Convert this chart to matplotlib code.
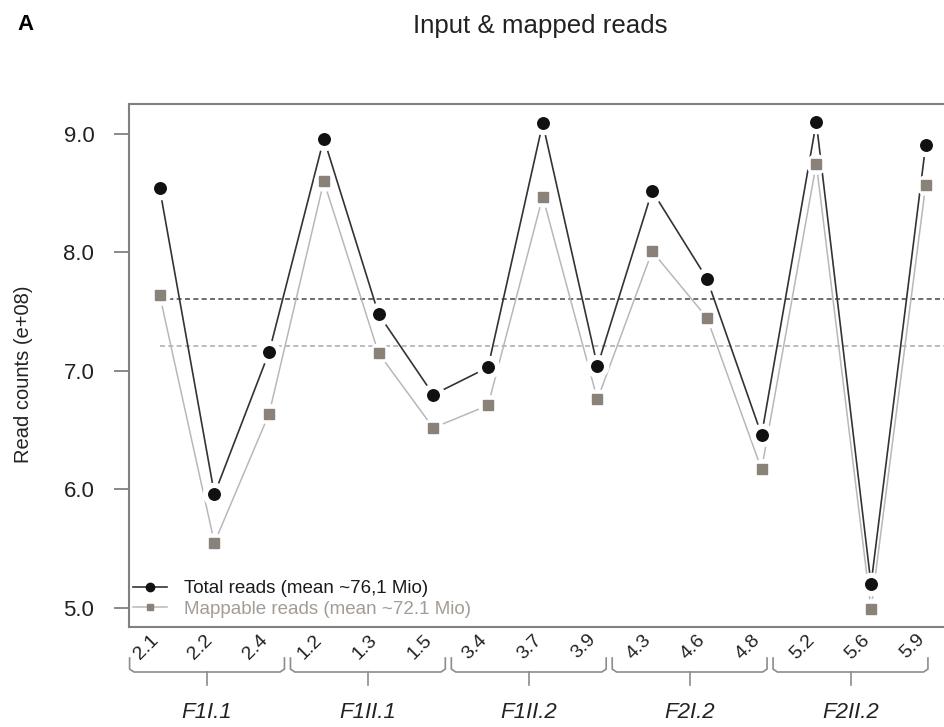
import numpy as np
import matplotlib
matplotlib.use("Agg")
import matplotlib.pyplot as plt
from matplotlib.transforms import blended_transform_factory, ScaledTranslation

plt.rcParams['font.family'] = ['Liberation Sans', 'DejaVu Sans']

# sample labels along the x axis, grouped in threes
samples = ["2.1", "2.2", "2.4", "1.2", "1.3", "1.5", "3.4", "3.7", "3.9",
           "4.3", "4.6", "4.8", "5.2", "5.6", "5.9"]
groups = ["F1I.1", "F1II.1", "F1II.2", "F2I.2", "F2II.2"]

# read counts (e+08)
total_reads = [8.54, 5.96, 7.16, 8.96, 7.48, 6.80, 7.03, 9.09, 7.04,
               8.52, 7.78, 6.46, 9.10, 5.20, 8.91]
mappable_reads = [7.64, 5.55, 6.64, 8.60, 7.15, 6.52, 6.71, 8.47, 6.76,
                  8.01, 7.45, 6.17, 8.75, 4.99, 8.57]
total_mean = 7.61
mappable_mean = 7.21

yticks = [5.0, 6.0, 7.0, 8.0, 9.0]

x = np.arange(1, len(samples) + 1)

fig = plt.figure(figsize=(9.44, 7.27), dpi=100)
ax = fig.add_axes([0.1367, 0.1376, 0.877, 0.7194])
ax.set_xlim(0.44, 15.57)
ax.set_ylim(4.84, 9.253)

black = "#111111"
grey_line = "#b8b8b8"
grey_marker = "#8a8179"

# mean lines
ax.hlines(total_mean, x[0], 16.5, colors="#555555", linestyles=(0, (3, 2)), lw=1.2, zorder=1)
ax.hlines(mappable_mean, x[0], 16.5, colors="#b0b0b0", linestyles=(0, (3, 2)), lw=1.2, zorder=1)

# lines, then white halos to make the gaps around points, then points
ax.plot(x, total_reads, color="#333333", lw=1.2, zorder=2)
ax.plot(x, mappable_reads, color=grey_line, lw=1.1, zorder=2)
ax.plot(x, total_reads, ls="none", marker="o", ms=16, color="white", zorder=3)
ax.plot(x, mappable_reads, ls="none", marker="o", ms=14, color="white", zorder=3)
ax.plot(x, total_reads, ls="none", marker="o", ms=8.3, color=black, zorder=4)
ax.plot(x, mappable_reads, ls="none", marker="s", ms=6.5, color=grey_marker, zorder=4)

# legend handles
h1, = ax.plot([], [], color="#333333", lw=1.2, marker="o", ms=6, mfc=black, mec=black)
h2, = ax.plot([], [], color=grey_line, lw=1.1, marker="s", ms=5, mfc=grey_marker, mec=grey_marker)
leg = ax.legend([h1, h2], ["Total reads (mean ~76,1 Mio)", "Mappable reads (mean ~72.1 Mio)"],
                loc="lower left", bbox_to_anchor=(0.0, 0.01), frameon=False,
                fontsize=13.5, handlelength=1.8, handletextpad=0.95,
                labelspacing=0.2, borderpad=0.2, borderaxespad=0)
leg.get_texts()[0].set_color("#1a1a1a")
leg.get_texts()[1].set_color("#a39c95")

# axes styling
for s in ax.spines.values():
    s.set_color("#808080")
    s.set_linewidth(1.5)

ax.set_yticks(yticks)
ax.set_yticklabels([f"{v:.1f}" for v in yticks], fontsize=16, color="#222222")
ax.tick_params(axis="y", direction="out", length=11, width=1.3, color="#808080", pad=14)

ax.set_xticks(x)
ax.set_xticklabels(samples, rotation=45, ha="right", rotation_mode="anchor",
                   fontsize=14, color="#222222")
ax.tick_params(axis="x", length=0, pad=3)
shift = ScaledTranslation(-10 / 100, 0, fig.dpi_scale_trans)
for lbl in ax.get_xticklabels():
    lbl.set_transform(lbl.get_transform() + shift)

fig.text(0.025, 1 - 374 / 727, "Read counts (e+08)", rotation=90, fontsize=14.5,
         ha="center", va="center", color="#222222")
fig.text(0.572, 0.9546, "Input & mapped reads", fontsize=18.6, ha="center",
         va="baseline", color="#222222")
fig.text(0.019, 0.9587, "A", fontsize=16, weight="bold", ha="left", va="baseline")

# group braces below the tick labels
trans = blended_transform_factory(ax.transData, fig.transFigure)
y_top, y_mid, y_bot = 1 - 658 / 727, 1 - 672 / 727, 1 - 685 / 727
for k, name in enumerate(groups):
    first = x[3 * k]
    last = x[3 * k + 2]
    x0 = first - 0.55 - 0.06 * k
    x1 = last + 0.28 - 0.06 * k
    xc = (x0 + x1) / 2
    ax.plot([x0, x0, x0 + 0.08, x1 - 0.08, x1, x1],
            [y_top, y_mid + 0.004, y_mid, y_mid, y_mid + 0.004, y_top],
            color="#8c8c8c", lw=1.2, transform=trans, clip_on=False)
    ax.plot([xc, xc], [y_mid, y_bot], color="#8c8c8c", lw=1.2,
            transform=trans, clip_on=False)
    ax.text(xc, 1 - 713 / 727, name, transform=trans, fontsize=16,
            style="italic", ha="center", va="center", color="#222222")

fig.savefig("out.png", dpi=100)
